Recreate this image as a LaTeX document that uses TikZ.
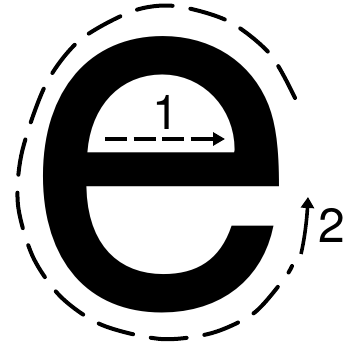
\documentclass[tikz,border=0pt]{standalone}
\usepackage{fontspec}
\setmainfont{TeX Gyre Heros}
\usetikzlibrary{arrows.meta}

\begin{document}
\begin{tikzpicture}[x=1pt, y=1pt,
  ring/.style={line width=4pt, line cap=round, dash pattern=on 36pt off 18pt},
  feed/.style={line width=4pt, dash pattern=on 22pt off 6.5pt, -{Triangle[length=12pt,width=13pt]}},
  turn/.style={line width=3.6pt, -{Triangle[length=11pt,width=13pt]}},
  num/.style={inner sep=0, anchor=base, font=\fontsize{48}{48}\selectfont}]
  \useasboundingbox (0,0) rectangle (349,352);
  \node[anchor=base west, inner sep=0, font=\fontsize{499}{499}\selectfont] (letter) at (23,46.5) {e};
  % inner arrow
  \coordinate (s1) at (105,213);
  \coordinate (t1) at (225,213);
  \draw[feed] (s1) -- (t1);
  \node[num] (one) at (166,222) {1};
  % outer ring
  \draw[ring] plot[smooth] coordinates {(295,254) (270,298) (228,331) (175,346)
    (133,341) (80,312) (46,268) (22,200) (18,147) (33,95) (61,55) (102,27)
    (161,13) (212,19) (254,39) (284,73) (292,86)};
  \coordinate (s2) at (301,98);
  \coordinate (t2) at (308,155);
  \draw[turn] (s2) .. controls (305,115) and (307,135) .. (t2);
  \node[num] (two) at (332,109) {2};
\end{tikzpicture}
\end{document}
